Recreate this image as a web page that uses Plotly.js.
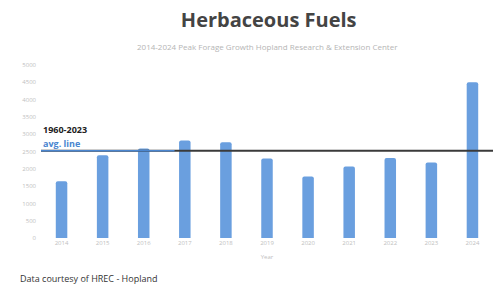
<!DOCTYPE html>
<html>
<head>
<meta charset="utf-8">
<script src="https://cdn.plot.ly/plotly-3.0.1.min.js"></script>
<style>html,body{margin:0;padding:0;background:#fff;}#chart{width:493px;height:285px;}</style>
</head>
<body>
<div id="chart"></div>
<script>
const years = ['2014','2015','2016','2017','2018','2019','2020','2021','2022','2023','2024'];
const forage = [1640, 2390, 2590, 2820, 2770, 2300, 1780, 2070, 2310, 2180, 4500];
const avgValue = [2520, 2520];
const avgSpan = [-0.5, 10.5];
const avgBlueSpan = [-0.5, 2.75];
const yTicks = [0, 500, 1000, 1500, 2000, 2500, 3000, 3500, 4000, 4500, 5000];

const traces = [
  {
    type: 'bar', x: years.map((y,i)=>i), y: forage, name: 'lbs/acre',
    width: 0.28,
    marker: {color: '#6a9fdf', cornerradius: 2},
    showlegend: false
  },
  {
    type: 'scatter', mode: 'lines', x: avgSpan, y: avgValue,
    line: {color: '#3a3a3a', width: 2}, showlegend: false, hoverinfo: 'skip'
  },
  {
    type: 'scatter', mode: 'lines', x: avgBlueSpan, y: avgValue,
    line: {color: '#4a86d0', width: 1.5}, showlegend: false, hoverinfo: 'skip'
  }
];

const layout = {
  width: 493, height: 285,
  margin: {l: 41, r: 0, t: 65, b: 47},
  paper_bgcolor: '#ffffff', plot_bgcolor: '#ffffff',
  font: {family: 'Open Sans, sans-serif', color: '#bbbbbb', size: 6},
  title: {
    text: '<b>Herbaceous Fuels</b>',
    font: {family: 'Open Sans, sans-serif', size: 20, color: '#444444', weight: 800},
    x: 0.545, xanchor: 'center', y: 0.93, yanchor: 'middle'
  },
  xaxis: {
    range: [-0.5, 10.5],
    tickmode: 'array', tickvals: years.map((y,i)=>i), ticktext: years,
    showgrid: false, zeroline: false, showline: false, ticks: '',
    tickfont: {size: 6, color: '#c0c0c0'},
    title: {text: 'Year', font: {size: 6, color: '#c0c0c0'}, standoff: 8}
  },
  yaxis: {
    range: [0, 5000],
    tickmode: 'array', tickvals: yTicks,
    showgrid: false, zeroline: false, showline: false, ticks: '',
    tickfont: {size: 6, color: '#c0c0c0'}, ticklabelstandoff: 4
  },
  annotations: [
    {xref: 'paper', yref: 'paper', x: 0.5, y: 1.105, xanchor: 'center', yanchor: 'middle', showarrow: false,
     text: '2014-2024 Peak Forage Growth Hopland Research &amp; Extension Center',
     font: {size: 8, color: '#b5b5b5'}},
    {xref: 'paper', yref: 'y', x: 0.0, y: 3150, xanchor: 'left', yanchor: 'middle', showarrow: false,
     text: '<b>1960-2023</b>', font: {size: 9, color: '#222222'}},
    {xref: 'paper', yref: 'y', x: 0.0, y: 2720, xanchor: 'left', yanchor: 'middle', showarrow: false,
     text: '<b>avg. line</b>', font: {size: 9, color: '#4a86d0'}},
    {xref: 'paper', yref: 'paper', x: -0.05, y: -0.235, xanchor: 'left', yanchor: 'middle', showarrow: false,
     text: 'Data courtesy of HREC - Hopland', font: {size: 9, color: '#333333'}}
  ]
};

Plotly.newPlot('chart', traces, layout, {displayModeBar: false, staticPlot: true});
</script>
</body>
</html>
